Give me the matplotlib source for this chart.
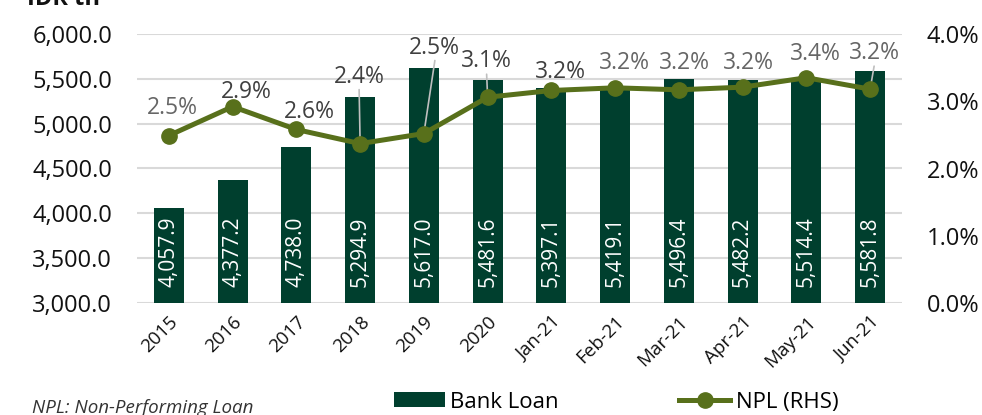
import matplotlib
matplotlib.use("Agg")
import matplotlib.pyplot as plt
from matplotlib.ticker import FuncFormatter

plt.rcParams['font.family'] = ['Open Sans', 'DejaVu Sans']

categories = ["2015", "2016", "2017", "2018", "2019", "2020",
              "Jan-21", "Feb-21", "Mar-21", "Apr-21", "May-21", "Jun-21"]
bank_loan = [4057.9, 4377.2, 4738.0, 5294.9, 5617.0, 5481.6,
             5397.1, 5419.1, 5496.4, 5482.2, 5514.4, 5581.8]
npl = [2.49, 2.92, 2.58, 2.37, 2.52, 3.06, 3.16, 3.20, 3.17, 3.21, 3.35, 3.18]
npl_labels = ["2.5%", "2.9%", "2.6%", "2.4%", "2.5%", "3.1%",
              "3.2%", "3.2%", "3.2%", "3.2%", "3.4%", "3.2%"]
# label offsets in pixels (dx right, dy up) and whether a leader line is drawn
lbl_dx = [4, 14, 13, -1, 11, -1, 9, 9, 6, 6, 9, 4]
lbl_dy = [28, 15, 17, 67, 86, 36, 18, 25, 27, 24, 24, 36]
leader = [False, False, False, True, True, True, False, False, False, False, False, True]
lbl_col = ["#666666", "#404040", "#404040", "#404040", "#404040", "#404040",
           "#404040", "#666666", "#666666", "#666666", "#666666", "#666666"]

BAR = "#003F2E"
LINE = "#58701B"
GRID = "#D9D9D9"

fig = plt.figure(figsize=(9.82, 4.15), dpi=100)
ax = fig.add_axes([137/982, (415-303)/415, 765/982, 269/415])
x = list(range(len(categories)))
bars = ax.bar(x, bank_loan, width=0.47, color=BAR, label="Bank Loan", zorder=2)
ax.set_ylim(3000, 6000)
ax.set_xlim(-0.5, len(categories) - 0.5)
ax.set_yticks([3000, 3500, 4000, 4500, 5000, 5500, 6000])
ax.yaxis.set_major_formatter(FuncFormatter(lambda v, p: f"{v:,.1f}"))
ax.grid(axis='y', color=GRID, linewidth=1.5, zorder=0)
ax.set_axisbelow(True)
for s in ax.spines.values():
    s.set_visible(False)
ax.tick_params(axis='both', length=0)
ax.tick_params(axis='y', labelsize=17, pad=18, labelcolor="#111111")
ax.set_xticks(x)
ax.set_xticklabels(categories, rotation=45, ha='right', rotation_mode='anchor',
                   fontsize=13.5, color="#111111")
ax.tick_params(axis='x', pad=7)

for i, v in enumerate(bank_loan):
    ax.annotate(f"{v:,.1f}", xy=(i, 3000), xytext=(0, 11.5), textcoords='offset points',
                rotation=90, ha='center', va='bottom', color='white', fontsize=15, zorder=3)

ax2 = ax.twinx()
line, = ax2.plot(x, npl, color=LINE, linewidth=3.6, marker='o', markersize=11,
                 label="NPL (RHS)", zorder=4)
ax2.set_ylim(0, 4)
ax2.set_yticks([0, 1, 2, 3, 4])
ax2.yaxis.set_major_formatter(FuncFormatter(lambda v, p: f"{v:.1f}%"))
for s in ax2.spines.values():
    s.set_visible(False)
ax2.tick_params(axis='y', length=0, labelsize=17, pad=18, labelcolor="#111111")

px = 0.72  # points per pixel
for i, v in enumerate(npl):
    ax2.annotate(npl_labels[i], xy=(i, v), xytext=(lbl_dx[i]*px, lbl_dy[i]*px),
                 textcoords='offset points', ha='center', va='center',
                 fontsize=16.5, color=lbl_col[i], zorder=5)
    if leader[i]:
        ax2.annotate("", xy=(i, v), xytext=(lbl_dx[i]*px, (lbl_dy[i]-13)*px),
                     textcoords='offset points',
                     arrowprops=dict(arrowstyle='-', color='#BFBFBF', lw=1.2,
                                     shrinkA=0, shrinkB=0), zorder=3)

fig.legend(handles=[bars, line], labels=["Bank Loan", "NPL (RHS)"],
           loc='center', bbox_to_anchor=(616/982, 13/415), ncol=2, frameon=False,
           fontsize=16, handlelength=2.3, handleheight=0.63, handletextpad=0.25,
           columnspacing=5.4, borderpad=0, borderaxespad=0)

fig.text(32/982, 1 - 408/415, "NPL: Non-Performing Loan", fontsize=13.5,
         style='italic', color="#333333", ha='left', va='center')
fig.text(27/982, 1 - 5/415, "IDR tn", fontsize=17, fontweight='bold',
         color="#111111", ha='left', va='baseline')

fig.savefig("out.png", dpi=100)
